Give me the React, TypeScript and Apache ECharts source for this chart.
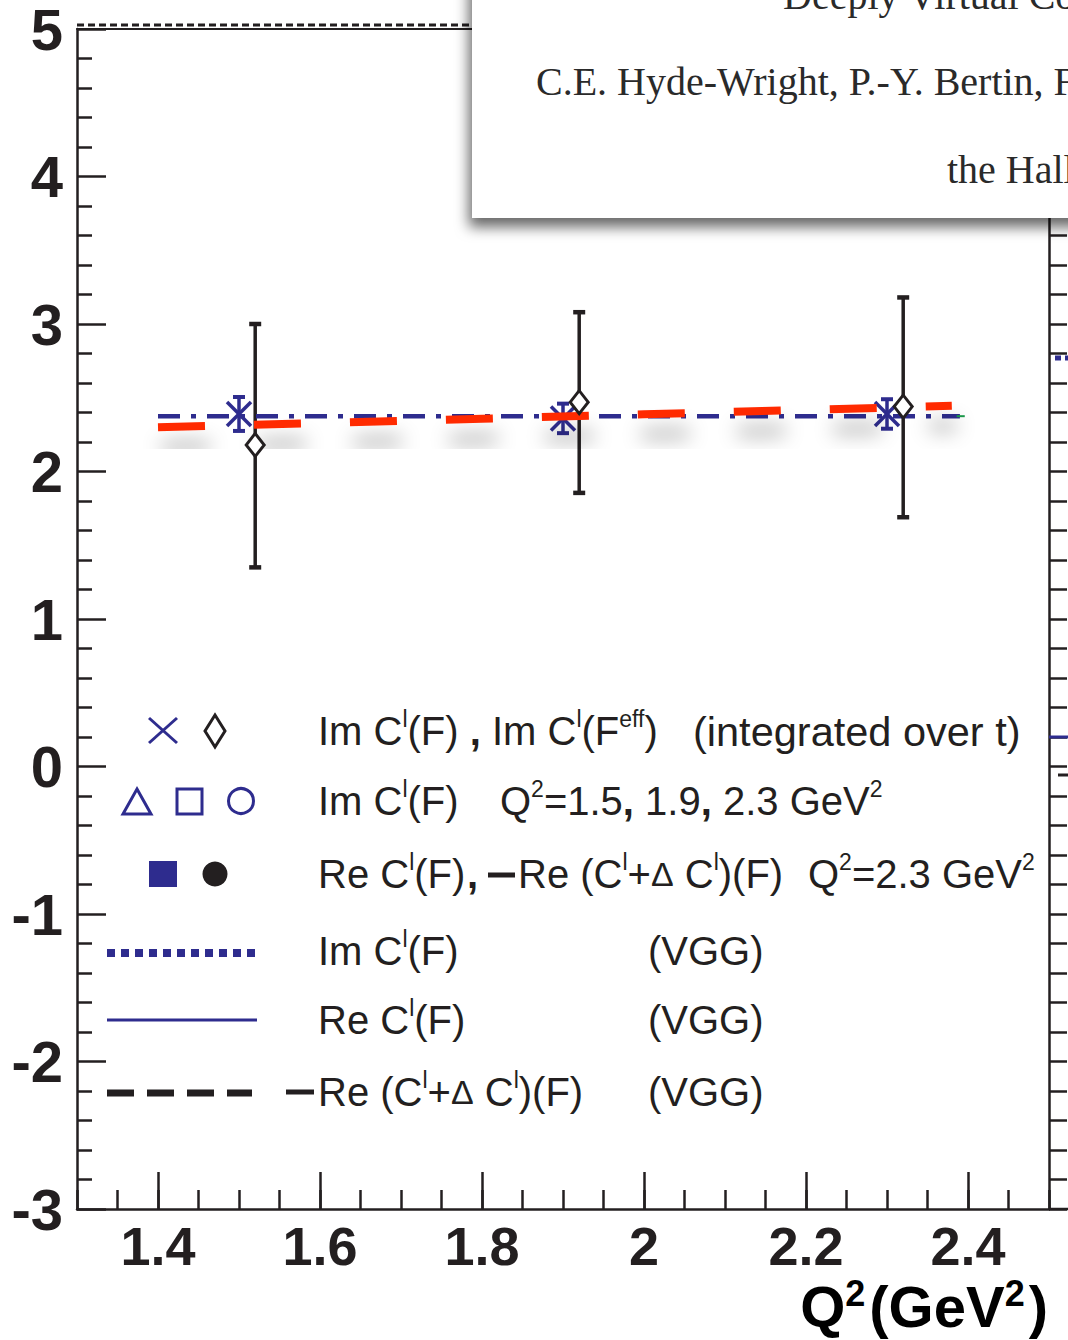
import React, { useEffect, useRef } from "react";
import * as echarts from "echarts";

// ---------- data ----------
const xMajorTicks = [1.4, 1.6, 1.8, 2.0, 2.2, 2.4];
const crossQ2 = [1.5, 1.9, 2.3];
const crossVal = [2.39, 2.36, 2.39];
const crossErr = [0.115, 0.1, 0.1];
const diamondQ2 = [1.52, 1.92, 2.32];
const diamondVal = [2.18, 2.47, 2.44];
const diamondLow = [1.35, 1.855, 1.69];
const diamondHigh = [3.0, 3.08, 3.18];
const redQ2 = [1.4, 1.6, 1.8, 2.0, 2.2, 2.38];
const redVal = [2.3, 2.328, 2.358, 2.388, 2.418, 2.445];
const blueQ2 = [1.4, 2.39];
const blueVal = [2.375, 2.375];
const greenQ2 = [2.386, 2.396];
const greenVal = [2.375, 2.375];

const INK = "#231f20";
const BLUE = "#2e2c8e";
const SANS = "'Liberation Sans', Arial, Helvetica, sans-serif";
const SERIF = "'Liberation Serif', 'DejaVu Serif', serif";

const FS = 40;
const rich = {
  n: { fontSize: FS, fontFamily: SANS, color: INK, lineHeight: 48 },
  w: { fontSize: 41.5, fontFamily: SANS, color: INK, lineHeight: 48 },
  s: { fontSize: 23, fontFamily: SANS, color: INK, lineHeight: 22, verticalAlign: "top" },
  d: { fontSize: 34, fontFamily: SANS, color: INK, lineHeight: 48 },
  b: { fontSize: FS, fontFamily: SANS, color: INK, lineHeight: 48, fontWeight: "bold" },
};

const legText = (x: number, y: number, text: string) => ({
  type: "text",
  x,
  y,
  z: 50,
  style: { text, rich, verticalAlign: "middle", align: "left", fontSize: FS, fontFamily: SANS, fill: INK },
});

export default function App() {
  const ref = useRef<HTMLDivElement>(null);
  useEffect(() => {
    if (!ref.current) return;
    const chart = echarts.init(ref.current, null, { renderer: "svg" });

    const pairs = (xs: number[], ys: number[]) => xs.map((x, i) => [x, ys[i]]);

    const graphic: any[] = [
      // top dashed fringe of frame
      { type: "line", z: 10, shape: { x1: 77, y1: 25, x2: 472, y2: 25 }, style: { stroke: INK, lineWidth: 3, lineDash: [7, 4] } },
      // bottom axis extension
      { type: "line", z: 10, shape: { x1: 1049, y1: 1209, x2: 1068, y2: 1209 }, style: { stroke: INK, lineWidth: 2.5 } },
      // neighbouring panel fragments
      { type: "line", z: 10, shape: { x1: 1049, y1: 737, x2: 1068, y2: 737 }, style: { stroke: BLUE, lineWidth: 3 } },
      { type: "line", z: 10, shape: { x1: 1055, y1: 358, x2: 1068, y2: 358 }, style: { stroke: BLUE, lineWidth: 5, lineDash: [6, 4] } },
      { type: "line", z: 10, shape: { x1: 1058, y1: 775, x2: 1068, y2: 775 }, style: { stroke: INK, lineWidth: 3 } },
      // legend symbols
      { type: "line", z: 50, shape: { x1: 149, y1: 718, x2: 177, y2: 743 }, style: { stroke: BLUE, lineWidth: 3 } },
      { type: "line", z: 50, shape: { x1: 149, y1: 743, x2: 177, y2: 718 }, style: { stroke: BLUE, lineWidth: 3 } },
      { type: "polygon", z: 50, shape: { points: [[215, 715], [225, 731], [215, 747], [205, 731]] }, style: { fill: "#fff", stroke: INK, lineWidth: 3 } },
      { type: "polygon", z: 50, shape: { points: [[137, 789], [151, 814], [123, 814]] }, style: { fill: "none", stroke: BLUE, lineWidth: 3 } },
      { type: "rect", z: 50, shape: { x: 177, y: 789, width: 25, height: 25 }, style: { fill: "none", stroke: BLUE, lineWidth: 3 } },
      { type: "circle", z: 50, shape: { cx: 241, cy: 801, r: 12.5 }, style: { fill: "none", stroke: BLUE, lineWidth: 3 } },
      { type: "rect", z: 50, shape: { x: 149, y: 861, width: 28, height: 26 }, style: { fill: BLUE } },
      { type: "circle", z: 50, shape: { cx: 215, cy: 874, r: 12.5 }, style: { fill: INK } },
      { type: "line", z: 50, shape: { x1: 107, y1: 953, x2: 255, y2: 953 }, style: { stroke: BLUE, lineWidth: 8, lineDash: [8, 6] } },
      { type: "line", z: 50, shape: { x1: 107, y1: 1020, x2: 257, y2: 1020 }, style: { stroke: BLUE, lineWidth: 3 } },
      { type: "line", z: 50, shape: { x1: 107, y1: 1093, x2: 252, y2: 1093 }, style: { stroke: INK, lineWidth: 7, lineDash: [27, 13] } },
      // thick minus signs
      { type: "line", z: 50, shape: { x1: 286, y1: 1092, x2: 314, y2: 1092 }, style: { stroke: INK, lineWidth: 5 } },
      { type: "line", z: 50, shape: { x1: 488, y1: 875, x2: 515, y2: 875 }, style: { stroke: INK, lineWidth: 5 } },
      // legend texts
      legText(318, 731, "{n|Im C}{s|l}{n|(F)}{b| , }{n|Im C}{s|l}{n|(F}{s|eff}{n|)}"),
      legText(693, 731, "{w|(integrated over t)}"),
      legText(318, 801, "{n|Im C}{s|l}{n|(F)}"),
      legText(500, 801, "{n|Q}{s|2}{n|=1.5}{b|, }{n|1.9}{b|, }{n|2.3 GeV}{s|2}"),
      legText(318, 874, "{n|Re C}{s|l}{n|(F)}"),
      legText(467, 874, "{b|,}"),
      legText(518, 874, "{n|Re (C}{s|l}{n|+}{d|Δ}{n| C}{s|l}{n|)(F)}"),
      legText(808, 874, "{n|Q}{s|2}{n|=2.3 GeV}{s|2}"),
      legText(318, 951, "{n|Im C}{s|l}{n|(F)}"),
      legText(648, 951, "{n|(VGG)}"),
      legText(318, 1020, "{n|Re C}{s|l}{n|(F)}"),
      legText(648, 1020, "{n|(VGG)}"),
      legText(318, 1092, "{n|Re (C}{s|l}{n|+}{d|Δ}{n| C}{s|l}{n|)(F)}"),
      legText(648, 1092, "{n|(VGG)}"),
      // axis title
      {
        type: "text",
        x: 1048,
        y: 1306,
        z: 50,
        style: {
          text: "{q|Q}{p|2}{q|(GeV}{p|2}{q|)}",
          align: "right",
          verticalAlign: "middle",
          rich: {
            q: { fontSize: 58, fontWeight: "bold", fontFamily: SANS, color: INK, lineHeight: 62 },
            p: { fontSize: 36, fontWeight: "bold", fontFamily: SANS, color: INK, lineHeight: 36, verticalAlign: "top", padding: [0, 4, 0, 0] },
          },
        },
      },
      // overlay paper snippet
      {
        type: "rect",
        z: 100,
        shape: { x: 472, y: -30, width: 640, height: 248 },
        style: { fill: "#fff", shadowBlur: 14, shadowOffsetX: -3, shadowOffsetY: 9, shadowColor: "rgba(0,0,0,0.6)" },
      },
      { type: "text", z: 101, x: 783, y: -5, style: { text: "Deeply Virtual Compton Scattering", fontSize: 40, fontFamily: SERIF, fill: "#2a2a2a", verticalAlign: "middle" } },
      { type: "text", z: 101, x: 536, y: 81, style: { text: "C.E. Hyde-Wright, P.-Y. Bertin, F. Sabatié", fontSize: 40, fontFamily: SERIF, fill: "#2a2a2a", verticalAlign: "middle" } },
      { type: "text", z: 101, x: 947, y: 169, style: { text: "the Hall A Collaboration", fontSize: 40, fontFamily: SERIF, fill: "#2a2a2a", verticalAlign: "middle" } },
    ];

    const option: any = {
      animation: false,
      backgroundColor: "#fff",
      grid: { left: 77, right: 19, top: 27, bottom: 131, containLabel: false },
      xAxis: [
        {
          type: "value",
          min: 1.3,
          max: 2.5,
          position: "bottom",
          axisLine: { show: true, onZero: false, lineStyle: { color: INK, width: 2.5 } },
          axisTick: { show: true, inside: true, length: 37, customValues: xMajorTicks, lineStyle: { color: INK, width: 2.5 } },
          axisLabel: {
            show: true,
            customValues: xMajorTicks,
            margin: 10,
            fontSize: 54,
            fontWeight: "bold",
            fontFamily: SANS,
            color: INK,
            formatter: (v: number) => String(+v.toFixed(1)),
          },
          splitLine: { show: false },
        },
        {
          type: "value",
          min: 1.3,
          max: 2.5,
          interval: 0.05,
          position: "bottom",
          axisLine: { show: false, onZero: false },
          axisTick: { show: true, inside: true, length: 19, lineStyle: { color: INK, width: 2.5 } },
          axisLabel: { show: false },
          splitLine: { show: false },
        },
        {
          type: "value",
          min: 1.3,
          max: 2.5,
          position: "top",
          axisLine: { show: true, onZero: false, lineStyle: { color: INK, width: 2 } },
          axisTick: { show: false },
          axisLabel: { show: false },
          splitLine: { show: false },
        },
      ],
      yAxis: [
        {
          type: "value",
          min: -3,
          max: 5,
          interval: 1,
          position: "left",
          axisLine: { show: true, onZero: false, lineStyle: { color: INK, width: 2.5 } },
          axisTick: { show: true, inside: true, length: 29, lineStyle: { color: INK, width: 2.5 } },
          minorTick: { show: true, splitNumber: 5, length: 15, lineStyle: { color: INK, width: 2.5 } },
          axisLabel: { margin: 14, fontSize: 58, lineHeight: 44, fontWeight: "bold", fontFamily: SANS, color: INK },
          splitLine: { show: false },
        },
        {
          type: "value",
          min: -3,
          max: 5,
          interval: 0.2,
          position: "right",
          axisLine: { show: true, onZero: false, lineStyle: { color: INK, width: 2.5 } },
          axisTick: { show: true, inside: false, length: 18, lineStyle: { color: INK, width: 2.5 } },
          axisLabel: { show: false },
          splitLine: { show: false },
        },
      ],
      series: [
        {
          type: "custom",
          name: "errbars",
          z: 3,
          xAxisIndex: 0,
          yAxisIndex: 0,
          data: diamondQ2.map((x, i) => [x, diamondLow[i], diamondHigh[i]]),
          encode: { x: 0, y: [1, 2] },
          renderItem: (params: any, api: any) => {
            const x = api.value(0);
            const lo = api.coord([x, api.value(1)]);
            const hi = api.coord([x, api.value(2)]);
            const cw = 6;
            return {
              type: "group",
              children: [
                { type: "line", shape: { x1: lo[0], y1: lo[1], x2: hi[0], y2: hi[1] }, style: { stroke: INK, lineWidth: 3.5 } },
                { type: "line", shape: { x1: lo[0] - cw, y1: lo[1], x2: lo[0] + cw, y2: lo[1] }, style: { stroke: INK, lineWidth: 4.5 } },
                { type: "line", shape: { x1: hi[0] - cw, y1: hi[1], x2: hi[0] + cw, y2: hi[1] }, style: { stroke: INK, lineWidth: 4.5 } },
              ],
            };
          },
        },
        {
          type: "line",
          name: "blue",
          z: 4,
          data: pairs(blueQ2, blueVal),
          symbol: "none",
          lineStyle: { color: BLUE, width: 4.5, type: [22, 11, 5, 11], cap: "butt" },
        },
        {
          type: "line",
          name: "green",
          z: 4,
          data: pairs(greenQ2, greenVal),
          symbol: "none",
          lineStyle: { color: "#1a9a4a", width: 2 },
        },
        {
          type: "custom",
          name: "crosses",
          z: 4,
          data: crossQ2.map((x, i) => [x, crossVal[i], crossErr[i]]),
          encode: { x: 0, y: 1 },
          renderItem: (params: any, api: any) => {
            const x = api.value(0);
            const y = api.value(1);
            const e = api.value(2);
            const c = api.coord([x, y]);
            const lo = api.coord([x, y - e]);
            const hi = api.coord([x, y + e]);
            const a = 12;
            const cw = 6;
            const st = { stroke: BLUE, lineWidth: 3.5 };
            return {
              type: "group",
              children: [
                { type: "line", shape: { x1: c[0] - a, y1: c[1] - a, x2: c[0] + a, y2: c[1] + a }, style: st },
                { type: "line", shape: { x1: c[0] - a, y1: c[1] + a, x2: c[0] + a, y2: c[1] - a }, style: st },
                { type: "line", shape: { x1: lo[0], y1: lo[1], x2: hi[0], y2: hi[1] }, style: st },
                { type: "line", shape: { x1: lo[0] - cw, y1: lo[1], x2: lo[0] + cw, y2: lo[1] }, style: { stroke: BLUE, lineWidth: 4 } },
                { type: "line", shape: { x1: hi[0] - cw, y1: hi[1], x2: hi[0] + cw, y2: hi[1] }, style: { stroke: BLUE, lineWidth: 4 } },
              ],
            };
          },
        },
        {
          type: "line",
          name: "red",
          z: 5,
          data: pairs(redQ2, redVal),
          symbol: "none",
          smooth: false,
          lineStyle: {
            color: "#ff2a00",
            width: 8,
            type: [47, 49],
            cap: "butt",
            shadowColor: "rgba(0,0,0,0.4)",
            shadowBlur: 20,
            shadowOffsetY: 20,
            shadowOffsetX: 4,
          },
        },
        {
          type: "scatter",
          name: "diamonds",
          z: 6,
          data: pairs(diamondQ2, diamondVal),
          symbol: "diamond",
          symbolSize: [18, 23],
          itemStyle: { color: "#fff", borderColor: INK, borderWidth: 3, opacity: 1 },
        },
      ],
      graphic,
    };

    chart.setOption(option);
    return () => chart.dispose();
  }, []);

  return (
    <div
      ref={ref}
      style={{ position: "absolute", left: 0, top: 0, width: 1068, height: 1340, background: "#fff" }}
    />
  );
}
